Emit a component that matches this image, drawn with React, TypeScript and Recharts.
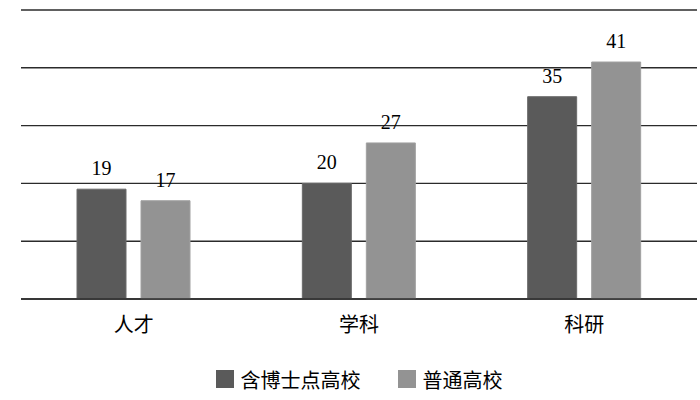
import { BarChart, Bar, XAxis, YAxis, CartesianGrid, Legend, LabelList } from "recharts"

const categories = ["人才", "学科", "科研"]
const doctoralValues = [19, 20, 35]
const regularValues = [17, 27, 41]
const yTicks = [0, 10, 20, 30, 40, 50]

const data = categories.map((name, i) => ({
    name,
    doctoral: doctoralValues[i],
    regular: regularValues[i],
}))

const DARK = "#5a5a5a"
const LIGHT = "#939393"
const SERIF = "'Liberation Serif', 'Times New Roman', serif"
const CJK = "'Noto Sans CJK SC', sans-serif"

// legend in one row, black text
const renderLegend = () => (
    <div style={{ height: 51, paddingTop: 9, boxSizing: "border-box", display: "flex", justifyContent: "center", alignItems: "center", fontFamily: CJK, fontSize: 20, color: "#000" }}>
        <span style={{ display: "inline-block", width: 18, height: 18, background: DARK, marginRight: 7 }} />
        <span style={{ marginRight: 37 }}>含博士点高校</span>
        <span style={{ display: "inline-block", width: 18, height: 18, background: LIGHT, marginRight: 7 }} />
        <span>普通高校</span>
    </div>
)

export default function App() {
    return (
        <div style={{ position: "absolute", left: 0, top: 0, background: "#fff" }}>
            <BarChart
                width={700}
                height={400}
                data={data}
                margin={{ top: 10, right: 3, left: 21, bottom: 0 }}
                barCategoryGap="25%"
                barGap={15}
                barSize={49}
            >
                <CartesianGrid vertical={false} stroke="#2b2b2b" strokeWidth={1.4} />
                <XAxis
                    dataKey="name"
                    height={50}
                    tickLine={false}
                    axisLine={{ stroke: "#2b2b2b", strokeWidth: 1.4 }}
                    tick={{ fill: "#000", fontSize: 20, fontFamily: CJK }}
                    tickMargin={13}
                />
                <YAxis hide domain={[0, 50]} ticks={yTicks} />
                <Legend verticalAlign="bottom" content={renderLegend} />
                <Bar dataKey="doctoral" name="含博士点高校" fill={DARK} stroke="#6a6a6a" isAnimationActive={false}>
                    <LabelList dataKey="doctoral" position="top" offset={14} fill="#000" fontSize={20} fontFamily={SERIF} />
                </Bar>
                <Bar dataKey="regular" name="普通高校" fill={LIGHT} stroke="#a0a0a0" isAnimationActive={false}>
                    <LabelList dataKey="regular" position="top" offset={14} fill="#000" fontSize={20} fontFamily={SERIF} />
                </Bar>
            </BarChart>
        </div>
    )
}
